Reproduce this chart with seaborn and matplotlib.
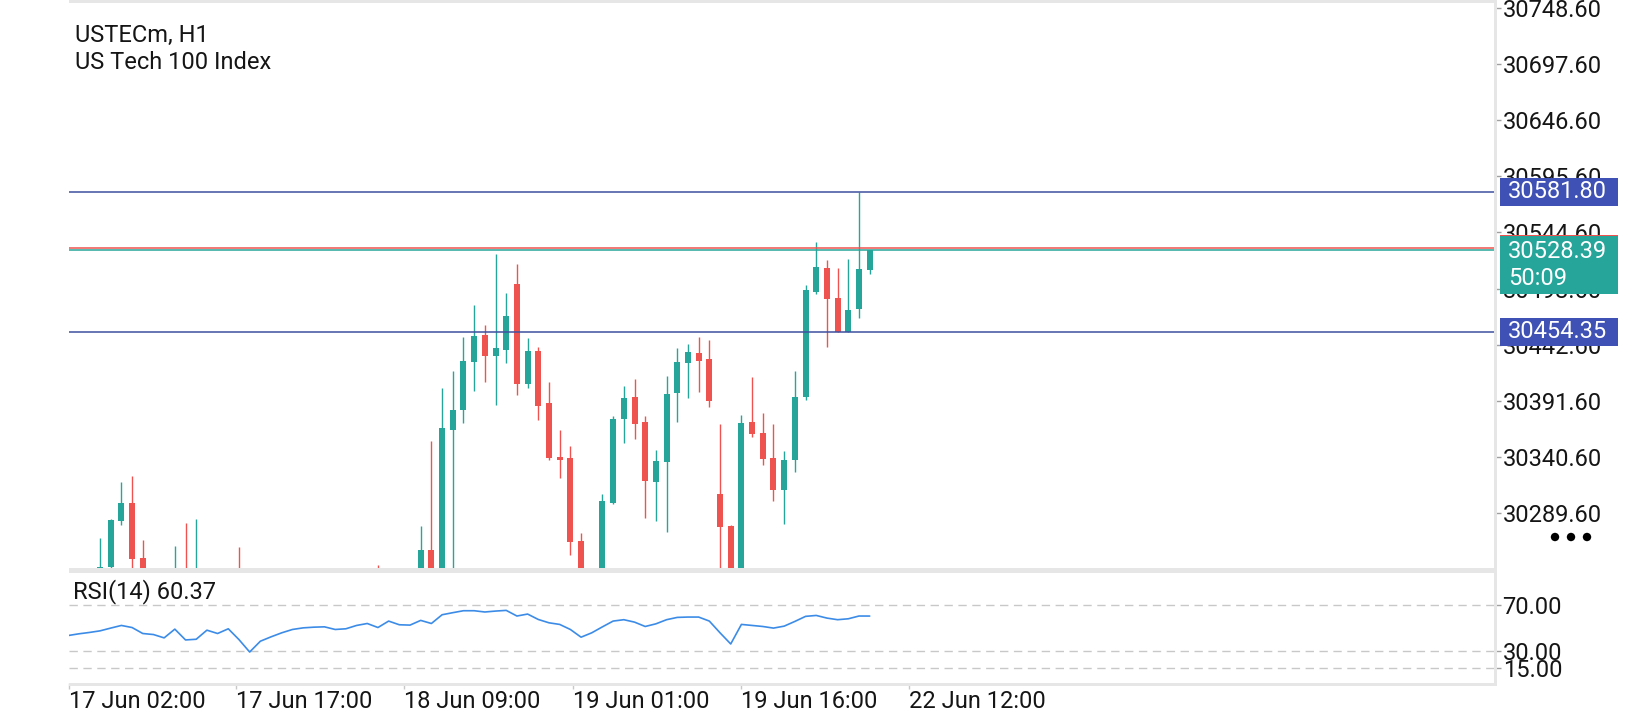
import numpy as np
import pandas as pd
import matplotlib
matplotlib.use("Agg")
import matplotlib.pyplot as plt
import seaborn as sns
from matplotlib.patches import Rectangle, Circle

# ---------------- data ----------------
bars = list(range(-3, 73))
opens = [30215, 30222, 30226,
         30230, 30240.5, 30282.3, 30298.4, 30248.4, 30230, 30226, 30214, 30236, 30220,
         30234, 30224, 30216, 30228, 30210, 30178, 30195, 30205, 30214, 30222,
         30226, 30228, 30230, 30222, 30225, 30233, 30236, 30228, 30237, 30232,
         30231, 30255.6, 30230, 30364.9, 30383.1, 30426.7, 30451.3, 30432.2, 30437.7, 30497.7,
         30406.7, 30436.8, 30389.4, 30340.3, 30339.4, 30263.9, 30230, 30234, 30298.7, 30374.7,
         30394.9, 30371.9, 30317.8, 30336.0, 30398.8, 30426.1, 30435.0, 30429.5, 30306.6, 30277.5,
         30228, 30372.1, 30362.1, 30339.4, 30310.5, 30337.8, 30395.2, 30490.7, 30512.3, 30485.3,
         30454.5, 30474.7, 30510.5]
highs = [30228, 30232, 30236,
         30266.6, 30283.5, 30317.5, 30323.0, 30264.8, 30236, 30232, 30259.3, 30280.2, 30283.9,
         30238, 30230, 30232, 30258.3, 30215, 30200, 30210, 30218, 30225, 30230,
         30232, 30234, 30233, 30230, 30236, 30238, 30242.0, 30238, 30239, 30237,
         30277.5, 30354.9, 30403.1, 30418.6, 30449.8, 30478.6, 30460.4, 30525.0, 30489.5, 30515.9,
         30448.6, 30440.4, 30408.5, 30364.9, 30350.3, 30271.1, 30237, 30306.6, 30377.9, 30404.9,
         30411.3, 30377.9, 30346.7, 30414.0, 30439.5, 30443.1, 30449.5, 30446.8, 30370.3, 30278.4,
         30378.5, 30413.1, 30380.3, 30370.3, 30345.8, 30418.6, 30496.8, 30536.2, 30519.6, 30512.3,
         30520.5, 30581.8, 30529.0]
lows = [30205, 30212, 30218,
        30225, 30239.0, 30278.4, 30236.0, 30224.0, 30215, 30208, 30210, 30215, 30212,
        30218, 30210, 30212, 30205, 30170, 30172, 30190, 30200, 30208, 30216,
        30220, 30222, 30218, 30218, 30222, 30228, 30224, 30225, 30228, 30226,
        30226, 30224, 30226, 30232, 30371.5, 30400.3, 30408.5, 30387.9, 30426.1, 30397.0,
        30403.4, 30374.0, 30337.5, 30321.5, 30251.1, 30225, 30222, 30230, 30297.8, 30353.3,
        30356.7, 30285.1, 30282.3, 30272.3, 30372.4, 30394.3, 30399.7, 30386.1, 30232, 30222,
        30225, 30358.8, 30333.3, 30300.5, 30279.6, 30326.9, 30392.4, 30488.9, 30440.7, 30454.35,
        30454.35, 30466.5, 30506.9]
closes = [30222, 30226, 30230,
          30240.2, 30283.0, 30298.4, 30247.5, 30230, 30226, 30214, 30236, 30220, 30234,
          30224, 30216, 30228, 30210, 30178, 30195, 30205, 30214, 30222, 30226,
          30228, 30230, 30222, 30225, 30233, 30236, 30228, 30237, 30232, 30231,
          30255.6, 30230, 30366.7, 30383.1, 30427.7, 30450.4, 30432.2, 30439.5, 30468.6, 30406.7,
          30436.8, 30387.0, 30339.6, 30337.6, 30263.2, 30230, 30234, 30300.2, 30374.9, 30394.0,
          30370.6, 30318.7, 30336.7, 30397.6, 30426.7, 30435.9, 30427.9, 30391.5, 30276.9, 30228,
          30371.2, 30361.5, 30338.7, 30310.5, 30337.6, 30394.9, 30492.3, 30513.2, 30484.4, 30454.5,
          30474.1, 30511.4, 30528.39]
rsi = [43.4, 44.9, 46.1,
       47.5, 49.9, 52.2, 50.4, 45.2, 44.3, 41.4, 49.0, 39.6, 40.2,
       48.1, 45.2, 49.3, 39.9, 29.1, 38.5, 42.3, 45.8, 48.7, 50.1,
       50.7, 51.0, 48.7, 49.3, 52.2, 53.9, 50.4, 56.0, 52.8, 52.5,
       56.6, 53.9, 61.5, 63.3, 65.0, 65.0, 63.9, 64.7, 65.3, 60.4,
       62.1, 57.4, 54.5, 53.1, 48.7, 42.0, 45.8, 51.0, 56.0, 57.2,
       55.1, 51.3, 53.6, 57.2, 59.2, 59.5, 59.5, 56.0, 45.8, 36.1,
       53.1, 52.2, 51.3, 49.9, 51.6, 55.7, 60.1, 60.9, 58.6, 57.2,
       58.0, 60.4, 60.37]

xtick_pos = [-2.9, 12.76, 28.48, 44.20, 59.92, 75.64]
xtick_labels = ["17 Jun 02:00", "17 Jun 17:00", "18 Jun 09:00",
                "19 Jun 01:00", "19 Jun 16:00", "22 Jun 12:00"]
price_ticks = [30289.60, 30340.60, 30391.60, 30442.60, 30493.60,
               30544.60, 30595.60, 30646.60, 30697.60, 30748.60]
rsi_levels = [70, 30, 15]
level_hi = 30581.80
level_lo = 30454.35
bid = 30528.39
ask = 30530.30
countdown = "50:09"
symbol = "USTECm, H1"
description = "US Tech 100 Index"

# ---------------- style ----------------
sns.set_theme(style="white")
plt.rcParams["font.family"] = ["Roboto", "DejaVu Sans"]

TEAL = "#26A69A"
RED = "#EF5350"
BLUE = "#3F51B5"
LINEBLUE = "#3F4FA0"
GREY = "#E6E6E6"
TXT = "#151515"
FS = 17

W, H = 1640, 720
fig = plt.figure(figsize=(W / 100, H / 100), dpi=100)
fig.patch.set_facecolor("white")


def fr(l, t, r, b):
    return [l / W, 1 - b / H, (r - l) / W, (b - t) / H]


ax = fig.add_axes(fr(69, 2, 1495.5, 568))
ax2 = fig.add_axes(fr(69, 573, 1495.5, 683))

df = pd.DataFrame({"bar": bars, "open": opens, "high": highs,
                   "low": lows, "close": closes, "rsi": rsi})
df["up"] = df["close"] >= df["open"]
df["color"] = np.where(df["up"], TEAL, RED)
df["body_lo"] = df[["open", "close"]].min(axis=1)
df["body_h"] = (df["close"] - df["open"]).abs().clip(lower=1.2)

XL = (-2.9, 130.54)
YL = (30239.27, 30754.37)

# candles
ax.vlines(df["bar"], df["low"], df["high"], colors=df["color"], lw=1.0, zorder=2)
ax.bar(df["bar"], df["body_h"], bottom=df["body_lo"], width=0.56,
       color=df["color"], linewidth=0, zorder=2.5)

# levels
ax.axhline(level_hi, color=LINEBLUE, lw=1.1, zorder=3)
ax.axhline(level_lo, color=LINEBLUE, lw=1.1, zorder=3)
ax.axhline(ask, color=RED, lw=1.1, zorder=3)
ax.axhline(bid, color=TEAL, lw=1.1, zorder=3.1)

ax.set_xlim(*XL)
ax.set_ylim(*YL)
ax.set_xticks([])
ax.yaxis.tick_right()
ax.set_yticks(price_ticks)
ax.set_yticklabels([f"{v:.2f}" for v in price_ticks])
ax.tick_params(axis="y", direction="out", length=3.6, width=1, color="#A0A0A0",
               pad=1.5, labelsize=FS, labelcolor=TXT, right=True, left=False)
for s in ax.spines.values():
    s.set_visible(False)

# RSI panel
for lv in rsi_levels:
    ax2.axhline(lv, color="#C8C8C8", lw=1.0, ls=(0, (6, 4)), zorder=1)
sns.lineplot(data=df, x="bar", y="rsi", ax=ax2, color="#3C8CE7", lw=1.2, zorder=3)
ax2.set_xlim(*XL)
ax2.set_ylim(2.17, 97.8)
ax2.set_xlabel("")
ax2.set_ylabel("")
ax2.yaxis.tick_right()
ax2.set_yticks(rsi_levels)
ax2.set_yticklabels([f"{v:.2f}" for v in rsi_levels])
ax2.tick_params(axis="y", direction="out", length=3.6, width=1, color="#A0A0A0",
                pad=1.5, labelsize=FS, labelcolor=TXT, right=True, left=False)
ax2.set_xticks(xtick_pos)
ax2.set_xticklabels(xtick_labels, ha="left")
ax2.tick_params(axis="x", direction="out", length=4, width=1, color="#C8C8C8",
                pad=1, labelsize=FS, labelcolor=TXT, bottom=True)
for s in ax2.spines.values():
    s.set_visible(False)

# ---------------- overlay (pixel space) ----------------
ov = fig.add_axes([0, 0, 1, 1], zorder=10)
ov.set_xlim(0, W)
ov.set_ylim(H, 0)
ov.axis("off")
ov.patch.set_alpha(0)

ov.add_patch(Rectangle((69, 0), 1426, 2.5, color=GREY, lw=0))
ov.add_patch(Rectangle((69, 568), 1428, 5, color=GREY, lw=0))
ov.add_patch(Rectangle((69, 683), 1428, 3, color=GREY, lw=0))
ov.add_patch(Rectangle((1494, 0), 3, 686, color=GREY, lw=0))


def ypix(price):
    return H - ax.transData.transform((0, price))[1]


BX, BW = 1500, 118
for lv in (level_hi, level_lo):
    y = ypix(lv)
    ov.add_patch(Rectangle((BX, y - 14), BW, 28, color=BLUE, lw=0, zorder=5))
    ov.text(BX + 8, y, f"{lv:.2f}", color="white", fontsize=FS, va="center",
            ha="left", zorder=6)

ya = ypix(ask)
yb = ypix(bid)
ov.add_patch(Rectangle((BX, ya - 13.5), BW, 28, color=RED, lw=0, zorder=5))
ov.add_patch(Rectangle((BX, yb - 14.5), BW, 58, color=TEAL, lw=0, zorder=5.5))
ov.text(BX + 8, yb + 1, f"{bid:.2f}", color="white", fontsize=FS, va="center",
        ha="left", zorder=6)
ov.text(BX + 8, yb + 28, countdown, color="white", fontsize=FS, va="center",
        ha="left", zorder=6)

for cx in (1555, 1571, 1587):
    ov.add_patch(Circle((cx, 537), 4.2, color="black", lw=0, zorder=6))

ov.text(75, 42, symbol, fontsize=FS, color=TXT, va="baseline", ha="left")
ov.text(75, 69, description, fontsize=FS, color=TXT, va="baseline", ha="left")
ov.text(73, 598, f"RSI(14) {rsi[-1]:.2f}", fontsize=FS, color=TXT,
        va="baseline", ha="left")

fig.savefig("out.png", dpi=100, facecolor="white")
